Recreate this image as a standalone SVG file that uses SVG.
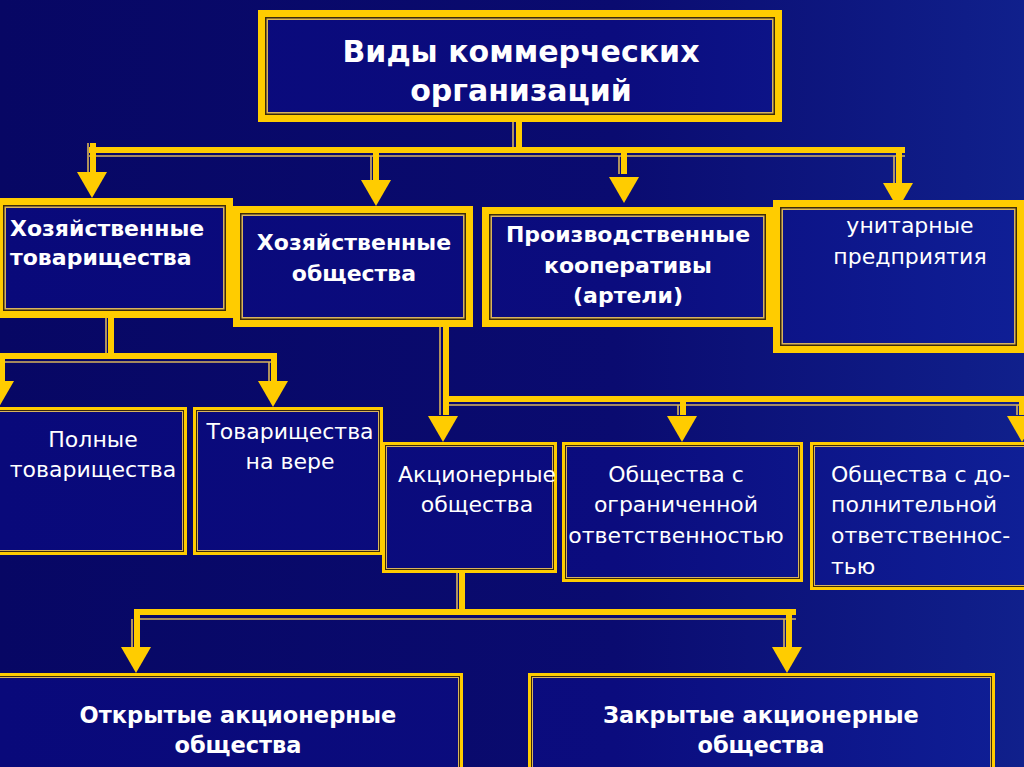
<svg xmlns="http://www.w3.org/2000/svg" xmlns:xlink="http://www.w3.org/1999/xlink" width="1024" height="767" viewBox="0 0 1024 767">
<defs>
<linearGradient id="bg" gradientUnits="userSpaceOnUse" x1="0" y1="0" x2="1024" y2="0">
<stop offset="0" stop-color="#070764"/>
<stop offset="0.6" stop-color="#0a0b70"/>
<stop offset="1" stop-color="#10208c"/>
</linearGradient>
<linearGradient id="bx" gradientUnits="userSpaceOnUse" x1="0" y1="0" x2="1024" y2="0">
<stop offset="0" stop-color="#09097a"/>
<stop offset="0.6" stop-color="#0b0c7e"/>
<stop offset="1" stop-color="#0f1f96"/>
</linearGradient>
<path id="ah" d="M-15,-26 L15,-26 L0,0 Z"/>
<style>
.g{fill:#ffcc00}
.dk{fill:#3a2a0c}
.tn{fill:#d9b45c}
.f{fill:url(#bx)}
.c{stroke:#ffcc00;stroke-width:6;fill:none}
.ct{stroke:#d9b45c;stroke-width:1.6;fill:none}
.a{fill:#ffcc00}
text{fill:#ffffff;font-family:"DejaVu Sans","Noto Sans",sans-serif;font-size:22px}
.b{font-weight:bold}
.t{font-size:30px;font-weight:bold}
.m{text-anchor:middle}
.bb{font-size:22.5px}
</style>
</defs>
<rect x="0" y="0" width="1024" height="767" fill="url(#bg)"/>

<g id="connectors">
<path class="ct" d="M513,122 V147 M89,156 H905 M88,143 V175 M371,156 V183 M619,156 V174 M894,156 V183 M106,318 V353 M-5,362 H277 M269,362 V382 M440,327 V415 M449,405 H1024 M678,405 V415 M1017,405 V415 M457,573 V609 M134,619 H796 M132,619 V647 M784,619 V647"/>
<path class="c" d="M519,122 V150 M89,150 H905 M93,143 V175 M376,153 V183 M624,153 V174 M899,147 V183 M111,318 V356 M-5,356 H277 M274,356 V382 M2,356 V382 M446,327 V415 M443,399 H1024 M683,399 V415 M1022,399 V415 M462,573 V612 M134,612 H796 M137,612 V647 M789,612 V647"/>
<g class="a">
<use xlink:href="#ah" transform="translate(92,198)"/>
<use xlink:href="#ah" transform="translate(376,206)"/>
<use xlink:href="#ah" transform="translate(624,203)"/>
<use xlink:href="#ah" transform="translate(898,209)"/>
<use xlink:href="#ah" transform="translate(-1,407)"/>
<use xlink:href="#ah" transform="translate(273,407)"/>
<use xlink:href="#ah" transform="translate(443,442)"/>
<use xlink:href="#ah" transform="translate(682,442)"/>
<use xlink:href="#ah" transform="translate(1022,442)"/>
<use xlink:href="#ah" transform="translate(136,673)"/>
<use xlink:href="#ah" transform="translate(787,673)"/>
</g>
</g>

<g id="n-top">
<rect class="g" x="258" y="10" width="524" height="112"/>
<rect class="dk" x="265" y="17" width="510" height="98"/>
<rect class="tn" x="266.5" y="18.5" width="507" height="95"/>
<rect class="f" x="268" y="20" width="504" height="92"/>
<text class="t m" x="521" y="62">Виды коммерческих</text>
<text class="t m" x="521" y="101">организаций</text>
</g>

<g id="n-ht">
<rect class="g" x="-4" y="198" width="237" height="120"/>
<rect class="dk" x="3" y="205" width="223" height="106"/>
<rect class="tn" x="4.5" y="206.5" width="220" height="103"/>
<rect class="f" x="6" y="208" width="217" height="100"/>
<text class="b" x="10" y="236">Хозяйственные</text>
<text class="b" x="10" y="265">товарищества</text>
</g>

<g id="n-ho">
<rect class="g" x="233" y="206" width="240" height="121"/>
<rect class="dk" x="240" y="213" width="226" height="107"/>
<rect class="tn" x="241.5" y="214.5" width="223" height="104"/>
<rect class="f" x="243" y="216" width="220" height="101"/>
<text class="b m" x="354" y="250">Хозяйственные</text>
<text class="b m" x="354" y="281">общества</text>
</g>

<g id="n-pk">
<rect class="g" x="482" y="207" width="291" height="120"/>
<rect class="dk" x="489" y="214" width="277" height="106"/>
<rect class="tn" x="490.5" y="215.5" width="274" height="103"/>
<rect class="f" x="492" y="217" width="271" height="100"/>
<text class="b m" x="628" y="242">Производственные</text>
<text class="b m" x="628" y="273">кооперативы</text>
<text class="b m" x="628" y="303">(артели)</text>
</g>

<g id="n-up">
<rect class="g" x="773" y="200" width="251" height="153"/>
<rect class="dk" x="780" y="207" width="237" height="139"/>
<rect class="tn" x="781.5" y="208.5" width="234" height="136"/>
<rect class="f" x="783" y="210" width="231" height="133"/>
<text class="m" x="910" y="233">унитарные</text>
<text class="m" x="910" y="264">предприятия</text>
</g>

<g id="n-pt">
<rect class="g" x="-6" y="407" width="193" height="148"/>
<rect class="dk" x="-3" y="410" width="187" height="142"/>
<rect class="tn" x="-2" y="411" width="185" height="140"/>
<rect class="f" x="-1" y="412" width="183" height="138"/>
<text class="m" x="93" y="447">Полные</text>
<text class="m" x="93" y="477">товарищества</text>
</g>

<g id="n-tv">
<rect class="g" x="193" y="407" width="190" height="148"/>
<rect class="dk" x="196" y="410" width="184" height="142"/>
<rect class="tn" x="197" y="411" width="182" height="140"/>
<rect class="f" x="198" y="412" width="180" height="138"/>
<text class="m" x="290" y="439">Товарищества</text>
<text class="m" x="290" y="469">на вере</text>
</g>

<g id="n-ao">
<rect class="g" x="382" y="442" width="175" height="131"/>
<rect class="dk" x="385" y="445" width="169" height="125"/>
<rect class="tn" x="386" y="446" width="167" height="123"/>
<rect class="f" x="387" y="447" width="165" height="121"/>
<text class="m" x="477" y="482">Акционерные</text>
<text class="m" x="477" y="512">общества</text>
</g>

<g id="n-ooo">
<rect class="g" x="562" y="442" width="241" height="140"/>
<rect class="dk" x="565" y="445" width="235" height="134"/>
<rect class="tn" x="566" y="446" width="233" height="132"/>
<rect class="f" x="567" y="447" width="231" height="130"/>
<text class="m" x="676" y="482">Общества с</text>
<text class="m" x="676" y="512">ограниченной</text>
<text class="m" x="676" y="543">ответственностью</text>
</g>

<g id="n-odo">
<rect class="g" x="810" y="442" width="220" height="148"/>
<rect class="dk" x="813" y="445" width="214" height="142"/>
<rect class="tn" x="814" y="446" width="212" height="140"/>
<rect class="f" x="815" y="447" width="210" height="138"/>
<text x="831" y="482">Общества с до-</text>
<text x="831" y="512">полнительной</text>
<text x="831" y="543">ответственнос-</text>
<text x="831" y="574">тью</text>
</g>

<g id="n-oao">
<rect class="g" x="-6" y="673" width="469" height="100"/>
<rect class="dk" x="-3" y="676" width="463" height="100"/>
<rect class="tn" x="-2" y="677" width="461" height="100"/>
<rect class="f" x="-1" y="678" width="459" height="100"/>
<text class="b m bb" x="238" y="723">Открытые акционерные</text>
<text class="b m bb" x="238" y="753">общества</text>
</g>

<g id="n-zao">
<rect class="g" x="528" y="673" width="467" height="100"/>
<rect class="dk" x="531" y="676" width="461" height="100"/>
<rect class="tn" x="532" y="677" width="459" height="100"/>
<rect class="f" x="533" y="678" width="457" height="100"/>
<text class="b m bb" x="761" y="723">Закрытые акционерные</text>
<text class="b m bb" x="761" y="753">общества</text>
</g>
</svg>
